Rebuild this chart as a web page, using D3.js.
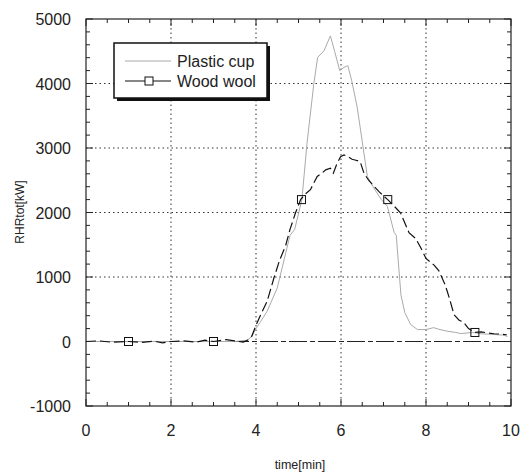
<!DOCTYPE html>
<html><head><meta charset="utf-8">
<script src="https://cdn.jsdelivr.net/npm/d3@7"></script>
<style>body{margin:0;background:#fff}svg{display:block}</style>
</head><body>
<script>
const xTicks = [0,2,4,6,8,10];
const yTicks = [-1000,0,1000,2000,3000,4000,5000];
const seriesNames = ["Plastic cup","Wood wool"];
const plasticT = [0,0.5,1,1.5,2,2.5,3,3.5,3.8,3.9,4.0,4.1,4.26,4.5,4.8,4.91,5.08,5.2,5.36,5.45,5.6,5.75,5.85,5.97,6.07,6.16,6.25,6.38,6.5,6.62,6.8,6.95,7.09,7.25,7.3,7.41,7.5,7.64,7.8,8.0,8.18,8.3,8.5,8.7,8.82,9.1,9.3,9.6,9.8,9.92];
const plasticV = [0,0,0,0,0,0,0,0,20,80,200,300,466,830,1646,1738,2200,3072,3995,4405,4508,4738,4500,4200,4250,4277,4050,3635,3100,2558,2350,2200,2097,1692,1646,723,450,262,185,185,215,190,160,140,123,140,120,108,100,80];
const woodT = [0,0.3,0.6,1,1.3,1.6,1.8,2,2.3,2.6,2.8,3,3.3,3.5,3.7,3.8,3.9,4.0,4.1,4.26,4.42,4.55,4.7,4.8,4.93,5.05,5.15,5.28,5.44,5.55,5.64,5.75,5.82,5.9,5.99,6.07,6.15,6.26,6.35,6.45,6.54,6.65,6.78,6.9,7.01,7.1,7.25,7.4,7.6,7.76,7.88,8.0,8.19,8.3,8.45,8.55,8.66,8.78,8.88,9.0,9.15,9.3,9.45,9.6,9.75,9.9];
const woodV = [0,10,-10,0,-15,5,-20,0,10,-10,20,0,30,10,-10,20,80,250,400,620,980,1250,1492,1738,1995,2200,2280,2354,2558,2610,2661,2687,2610,2750,2866,2892,2870,2826,2810,2790,2610,2500,2405,2320,2251,2200,2100,1995,1687,1595,1450,1287,1185,1100,880,672,415,330,302,200,140,150,133,120,115,105];
const markerT = [1,3,5.07,7.1,9.15];
const markerV = [0,0,2200,2200,140];

const W=522,H=472, L=86,R=511,T=19,B=406;
const svg=d3.select("body").append("svg").attr("width",W).attr("height",H)
  .style("font-family","'Liberation Sans',Arial,sans-serif");
const x=d3.scaleLinear().domain([0,10]).range([L,R]);
const y=d3.scaleLinear().domain([-1000,5000]).range([B,T]);

// grid
const g=svg.append("g");
[2,4,6,8].forEach(v=>g.append("line").attr("x1",x(v)).attr("x2",x(v)).attr("y1",T).attr("y2",B)
  .attr("stroke","#333").attr("stroke-width",1).attr("stroke-dasharray","1.5,3"));
[1000,2000,3000,4000].forEach(v=>g.append("line").attr("y1",y(v)).attr("y2",y(v)).attr("x1",L).attr("x2",R)
  .attr("stroke","#333").attr("stroke-width",1).attr("stroke-dasharray","1.5,3"));
g.append("line").attr("y1",y(0)).attr("y2",y(0)).attr("x1",L).attr("x2",R)
  .attr("stroke","#222").attr("stroke-width",1).attr("stroke-dasharray","18,3,5,3");

// frame
svg.append("rect").attr("x",L).attr("y",T).attr("width",R-L).attr("height",B-T)
  .attr("fill","none").attr("stroke","#222").attr("stroke-width",1.2);

// ticks
const tk=svg.append("g").attr("stroke","#222").attr("stroke-width",1);
d3.range(0,10.01,0.5).forEach(v=>{
  const major = Math.abs(v/2-Math.round(v/2))<1e-6;
  const len = major?7:4;
  tk.append("line").attr("x1",x(v)).attr("x2",x(v)).attr("y1",B).attr("y2",B-len);
  tk.append("line").attr("x1",x(v)).attr("x2",x(v)).attr("y1",T).attr("y2",T+len);
});
d3.range(-1000,5001,200).forEach(v=>{
  const major = v%1000===0;
  const len = major?7:4;
  tk.append("line").attr("y1",y(v)).attr("y2",y(v)).attr("x1",L).attr("x2",L+len);
  tk.append("line").attr("y1",y(v)).attr("y2",y(v)).attr("x1",R).attr("x2",R-len);
});

// tick labels
svg.append("g").selectAll("text").data(xTicks).join("text")
  .attr("x",d=>x(d)).attr("y",B+30).attr("text-anchor","middle")
  .attr("font-size",16).attr("fill","#222").text(d=>d);
svg.append("g").selectAll("text").data(yTicks).join("text")
  .attr("x",L-15).attr("y",d=>y(d)+6).attr("text-anchor","end")
  .attr("font-size",16).attr("fill","#222").text(d=>d);

// axis titles
svg.append("text").attr("x",300).attr("y",469).attr("text-anchor","middle")
  .attr("font-size",12.5).attr("fill","#222").text("time[min]");
svg.append("text").attr("transform","translate(24,212) rotate(-90)").attr("text-anchor","middle")
  .attr("font-size",12).attr("fill","#222").text("RHRtot[kW]");

// data
const line=d3.line().x(d=>x(d[0])).y(d=>y(d[1]));
const plastic=plasticT.map((t,i)=>[t,plasticV[i]]);
const wood=woodT.map((t,i)=>[t,woodV[i]]);
svg.append("path").datum(plastic).attr("d",line).attr("fill","none")
  .attr("stroke","#aaaaaa").attr("stroke-width",1);
svg.append("path").datum(wood).attr("d",line).attr("fill","none")
  .attr("stroke","#111").attr("stroke-width",1.2).attr("stroke-dasharray","10,4");
svg.append("g").selectAll("rect").data(markerT.map((t,i)=>[t,markerV[i]])).join("rect")
  .attr("x",d=>x(d[0])-4).attr("y",d=>y(d[1])-4).attr("width",8).attr("height",8)
  .attr("fill","none").attr("stroke","#111").attr("stroke-width",1);

// legend
const lg=svg.append("g");
lg.append("rect").attr("x",117).attr("y",46).attr("width",153).attr("height",55).attr("fill","#111");
lg.append("rect").attr("x",114).attr("y",43).attr("width",153).attr("height",55)
  .attr("fill","#fff").attr("stroke","#111").attr("stroke-width",1.5);
lg.append("line").attr("x1",125).attr("x2",171).attr("y1",61).attr("y2",61).attr("stroke","#aaaaaa").attr("stroke-width",1);
lg.append("line").attr("x1",125).attr("x2",171).attr("y1",81).attr("y2",81).attr("stroke","#111").attr("stroke-width",1.2);
lg.append("rect").attr("x",145).attr("y",77).attr("width",8).attr("height",8).attr("fill","#fff").attr("stroke","#111");
lg.selectAll("text.l").data(seriesNames).join("text")
  .attr("x",177).attr("y",(d,i)=>67+i*20).attr("font-size",16).attr("fill","#222").text(d=>d);
</script>
</body></html>
